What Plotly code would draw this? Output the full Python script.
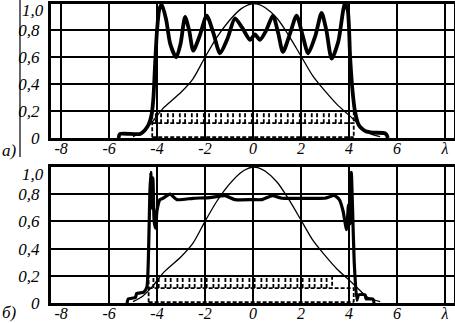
import plotly.graph_objects as go

# ---------------- data ----------------
# thin bell-shaped curve (same in both panels)
thin_x = [-5.0, -4.6, -4.2, -3.75, -3.0, -2.5, -2.0, -1.5, -1.0, -0.5, -0.2, 0.0,
          0.2, 0.5, 1.0, 1.5, 2.0, 2.5, 3.0, 3.5, 4.0, 4.3, 4.8, 5.3]
thin_y = [0.01, 0.05, 0.12, 0.22, 0.34, 0.44, 0.60, 0.75, 0.87, 0.96, 0.99, 1.00,
          0.995, 0.97, 0.89, 0.76, 0.61, 0.46, 0.35, 0.25, 0.17, 0.12, 0.04, 0.01]

# panel a) thick oscillating curve
a_x = [-5.6, -5.55, -4.7, -4.5, -4.35, -4.22, -4.15, -4.08, -4.0, -3.9, -3.8, -3.62,
       -3.45, -3.2, -3.02, -2.83, -2.66, -2.49, -2.22, -1.93, -1.65, -1.375, -1.06,
       -0.75, -0.45, -0.12, 0.08, 0.29, 0.55, 0.83, 1.05, 1.25, 1.55, 1.82, 2.06,
       2.3, 2.6, 2.86, 3.06, 3.28, 3.56, 3.83, 3.95, 4.05, 4.15, 4.25, 4.4, 4.54,
       4.7, 5.0, 5.5, 5.58, 5.62]
a_y = [0.0, 0.03, 0.03, 0.06, 0.10, 0.18, 0.30, 0.55, 0.80, 0.96, 0.99, 0.88,
       0.70, 0.60, 0.70, 0.90, 0.80, 0.65, 0.76, 0.91, 0.78, 0.63, 0.74,
       0.89, 0.82, 0.73, 0.77, 0.73, 0.80, 0.91, 0.78, 0.64, 0.78, 0.91, 0.77,
       0.63, 0.76, 0.93, 0.80, 0.59, 0.72, 1.00, 0.95, 0.60, 0.35, 0.20, 0.10, 0.07,
       0.05, 0.04, 0.035, 0.02, 0.0]

# panel b) thick curve with edge spikes
b_x = [-5.25, -5.2, -4.9, -4.85, -4.55, -4.42, -4.35, -4.3, -4.26, -4.22, -4.17,
       -4.12, -4.06, -4.0, -3.88, -3.75, -3.46, -3.17, -2.5, -1.8, -1.17, -0.75,
       0.0, 0.38, 0.8, 1.2, 1.6, 2.3, 3.0, 3.4, 3.6, 3.75, 3.9, 3.98, 4.04, 4.1,
       4.15, 4.22, 4.33, 4.4, 4.67, 4.72, 5.0, 5.05]
b_y = [0.0, 0.03, 0.04, 0.07, 0.08, 0.12, 0.40, 0.80, 0.96, 0.70, 0.92,
       0.60, 0.55, 0.68, 0.76, 0.77, 0.80, 0.76, 0.77, 0.775, 0.79, 0.76,
       0.76, 0.76, 0.79, 0.77, 0.77, 0.77, 0.77, 0.79, 0.76, 0.68, 0.54, 0.72, 0.58, 0.96,
       0.70, 0.30, 0.02, 0.06, 0.06, 0.03, 0.03, 0.0]

# dashed "box" pattern (lower/upper levels, edges)
box_low, box_high = 0.11, 0.20
a_edges = [-4.2, 4.2]
a_box_left = [-4.05, -3.55, -3.05, -2.55, -2.05, -1.55, -1.05, -0.55, -0.05,
              0.45, 0.95, 1.45, 1.95, 2.45, 2.95, 3.45]
b_edges = [-4.35, 4.2]
b_box_left = [-4.15, -3.65, -3.15, -2.65, -2.15, -1.65, -1.15, -0.65, -0.15,
              0.35, 0.85, 1.35, 1.85, 2.35, 2.85]
box_w = 0.22
b_upper_end = 3.3

x_ticks = [-8, -6, -4, -2, 0, 2, 4, 6, 8]
x_text = ["-8", "-6", "-4", "-2", "0", "2", "4", "6", "λ"]
y_ticks = [0, 0.2, 0.4, 0.6, 0.8]
y_text = ["0", "0,2", "0,4", "0,6", "0,8"]

# ---------------- figure ----------------
W, H = 455, 323
fig = go.Figure()
FONT = "Liberation Serif"


def dashed_traces(edges, box_left, upper_end, xa, ya):
    e0, e1 = edges
    up_end = upper_end if upper_end is not None else e1
    xs = [e0, e0, up_end, up_end]
    ys = [0.005, box_high, box_high, box_low]
    xs2 = [e0, e1, e1]
    ys2 = [box_low, box_low, 0.005]
    xs3 = [e0, e1]
    ys3 = [0.006, 0.006]
    bx, by = [], []
    for L in box_left:
        for e in (L, L + box_w):
            bx += [e, e, None]
            by += [box_low, box_high, None]
    for X, Y in ((xs, ys), (xs2, ys2), (xs3, ys3), (bx, by)):
        fig.add_trace(go.Scatter(x=X, y=Y, mode="lines", xaxis=xa, yaxis=ya,
                                 line=dict(color="black", width=1.8, dash="4px,2px"),
                                 showlegend=False, hoverinfo="skip"))


dashed_traces(a_edges, a_box_left, None, "x", "y")
dashed_traces(b_edges, b_box_left, b_upper_end, "x2", "y2")

for xa, ya in (("x", "y"), ("x2", "y2")):
    fig.add_trace(go.Scatter(x=thin_x, y=thin_y, mode="lines", xaxis=xa, yaxis=ya,
                             line=dict(color="black", width=1.3, shape="spline", smoothing=0.8),
                             showlegend=False, hoverinfo="skip"))

fig.add_trace(go.Scatter(x=a_x, y=a_y, mode="lines", xaxis="x", yaxis="y",
                         line=dict(color="black", width=3.8, shape="spline", smoothing=0.7),
                         showlegend=False, hoverinfo="skip"))
fig.add_trace(go.Scatter(x=b_x, y=b_y, mode="lines", xaxis="x2", yaxis="y2",
                         line=dict(color="black", width=3.2, shape="spline", smoothing=0.5),
                         showlegend=False, hoverinfo="skip"))

xdom = [51 / W, 454 / W]
top_dom = [1 - 138 / H, 1 - 3.5 / H]
bot_dom = [1 - 303 / H, 1 - 167 / H]
xr = [-8.42, 8.38]
tf = dict(family=FONT, size=17, color="black", style="italic")
tfx = dict(family=FONT, size=16, color="black", style="italic")

common_x = dict(range=xr, showline=True, mirror=True, linewidth=3, linecolor="black",
                ticks="", tickvals=x_ticks, ticktext=x_text, tickfont=tfx,
                zeroline=False, fixedrange=True, automargin=False)
common_y = dict(range=[0, 1.0], showline=True, mirror=True, linewidth=3, linecolor="black",
                ticks="", tickvals=y_ticks, ticktext=y_text, tickfont=tf,
                showgrid=True, gridcolor="black", gridwidth=2, zeroline=False,
                fixedrange=True, ticklabelstandoff=5, automargin=False)

fig.update_layout(
    width=W, height=H, margin=dict(l=0, r=0, t=0, b=0, autoexpand=False),
    paper_bgcolor="white", plot_bgcolor="white",
    xaxis=dict(domain=xdom, anchor="y", showgrid=True, gridcolor="black", gridwidth=2,
               ticklabelstandoff=-6, **common_x),
    yaxis=dict(domain=top_dom, anchor="x", **common_y),
    xaxis2=dict(domain=xdom, anchor="y2", showgrid=False,
                minor=dict(tickvals=x_ticks[1:], showgrid=True, gridcolor="black",
                           gridwidth=2, ticks=""),
                ticklabelstandoff=-6, **common_x),
    yaxis2=dict(domain=bot_dom, anchor="x2", **common_y),
    showlegend=False,
)

# "1,0" labels (shifted down inside the figure like the original)
for ya, dom in (("y", top_dom), ("y2", bot_dom)):
    fig.add_annotation(text="1,0", xref="paper", yref="paper", x=xdom[0], y=dom[1],
                       xanchor="right", yanchor="middle", xshift=-5, yshift=-7,
                       showarrow=False, font=tf)

fig.add_annotation(text="а)", xref="paper", yref="paper", x=0.0, y=1 - 150 / H,
                   xanchor="left", yanchor="middle", showarrow=False, font=tf)
fig.add_annotation(text="б)", xref="paper", yref="paper", x=0.0, y=1 - 312 / H,
                   xanchor="left", yanchor="middle", showarrow=False, font=tf)

# thin vertical separator line at left of upper panel
fig.add_shape(type="line", xref="paper", yref="paper", x0=20 / W, x1=20 / W,
              y0=1 - 157 / H, y1=1.0, line=dict(color="black", width=1.2))

fig.write_html("out.html", config={"displayModeBar": False},
               post_script="document.body.style.margin='0';document.body.style.overflow='hidden';")
